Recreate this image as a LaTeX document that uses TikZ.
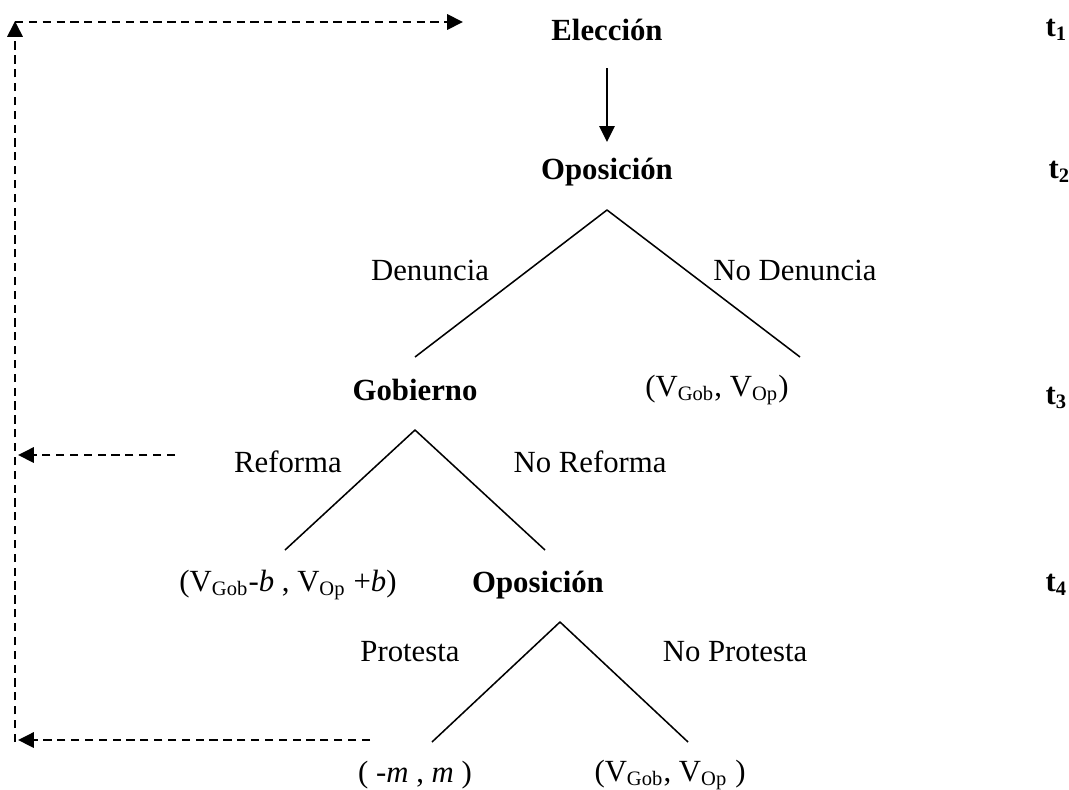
\documentclass[tikz,border=0pt]{standalone}
\usepackage{fontspec}
\setmainfont{Liberation Serif}
\usetikzlibrary{arrows.meta}
\tikzset{
	jugador/.style={font=\fontsize{12}{14}\selectfont\bfseries},
	accion/.style={font=\fontsize{12}{14}\selectfont},
	retro/.style={dashed,dash pattern=on 3.2pt off 2.2pt,line width=0.8pt},
	rama/.style={line width=0.6pt}
}
\begin{document}
\begin{tikzpicture}[x=0.39pt,y=-0.39pt,>={Triangle[length=6.2pt,width=6pt]}, font=\fontsize{12}{14}\selectfont, line join=round, every node/.style={inner sep=0pt}]
	\useasboundingbox (0,0) rectangle (1069,789);
	%Nodos del juego
	\node[jugador] (elec) at (607,30) {Elección};
	\node[jugador] (op1) at (607,172) {Oposición};
	\node[jugador] (gob) at (415,390) {Gobierno};
	\node[jugador] (op2) at (538,585) {Oposición};
	\node[accion] (pagoND) at (717,390) {(V\textsubscript{Gob}, V\textsubscript{Op})};
	\node[accion] (pagoR) at (288,585) {(V\textsubscript{Gob}-\textit{b} , V\textsubscript{Op} +\textit{b})};
	\node[accion] (pagoP) at (415,775) {( -\textit{m} , \textit{m} )};
	\node[accion] (pagoNP) at (670,775) {(V\textsubscript{Gob}, V\textsubscript{Op} )};
	%Acciones
	\foreach \n/\x/\y/\t in {den/430/270/Denuncia, noden/795/270/No Denuncia, ref/288/462/Reforma, noref/590/462/No Reforma, prot/410/652/Protesta, noprot/735/652/No Protesta}
	\node[accion] (\n) at (\x,\y) {\t};
	%Periodos
	\foreach \n/\x/\y/\k in {t1/1045/30/1, t2/1048/172/2, t3/1045/398/3, t4/1045/585/4}
	\node[jugador,anchor=west] (\n) at (\x,\y) {t\textsubscript{\k}};
	\path
	(607,68) coordinate (E_0)
	(607,142) coordinate (E_1)
	(607,210) coordinate (A_1)
	(415,357) coordinate (D)
	(800,357) coordinate (N_D)
	(415,430) coordinate (A_2)
	(285,550) coordinate (R)
	(545,550) coordinate (N_R)
	(560,622) coordinate (A_3)
	(432,742) coordinate (P)
	(688,742) coordinate (N_P)
	(15,742) coordinate (F_0)
	(15,21) coordinate (F_1)
	(463,22) coordinate (F_2)
	(175,455) coordinate (G_1)
	(18,455) coordinate (G_0)
	(370,740) coordinate (H_1)
	(18,740) coordinate (H_0)
	;
	\draw[->,line width=0.7pt] (E_0)--(E_1);
	\draw[rama] (D)--(A_1)--(N_D) (R)--(A_2)--(N_R) (P)--(A_3)--(N_P);
	%Retroalimentacion
	\draw[retro,->] (F_0)--(F_1);
	\draw[retro,->] (15,22)--(F_2);
	\draw[retro,->] (G_1)--(G_0);
	\draw[retro,->] (H_1)--(H_0);
\end{tikzpicture}
\end{document}
